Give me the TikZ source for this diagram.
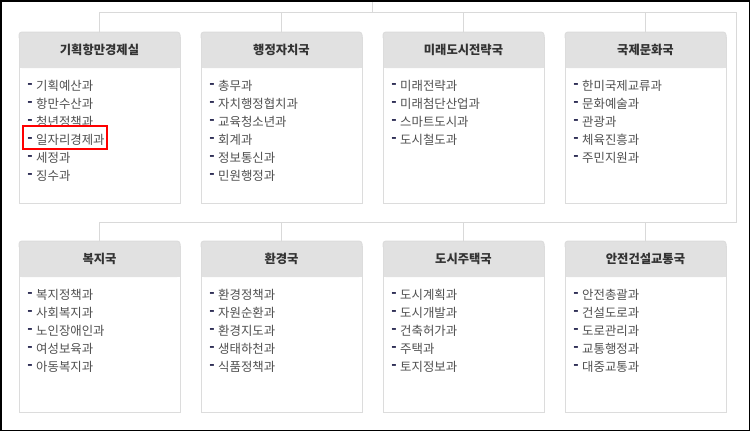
\documentclass[tikz,border=0pt]{standalone}
\usepackage{fontspec}
\newfontfamily\kr{Noto Sans CJK KR}
\definecolor{linegray}{HTML}{D9D9D9}
\definecolor{boxborder}{HTML}{DCDCDC}
\definecolor{headfill}{HTML}{E1E1E1}
\definecolor{headtext}{HTML}{333333}
\definecolor{itemcol}{HTML}{505050}
\definecolor{dashcol}{HTML}{1E1E48}
\tikzset{
  conn/.style={draw=linegray, line width=1pt},
  boxline/.style={draw=boxborder, line width=1pt},
  boxnode/.style={inner sep=0pt, minimum width=161pt, minimum height=171pt},
  titletext/.style={inner sep=0pt, font=\kr\fontsize{12.3}{14}\selectfont\bfseries, text=headtext},
  itemtext/.style={inner sep=0pt, font=\kr\fontsize{12.4}{14}\selectfont, text=itemcol},
  dashtext/.style={inner sep=0pt, font=\kr\fontsize{14}{14}\selectfont\bfseries, text=dashcol},
  highlight/.style={draw=red, line width=2pt}
}
\newcommand\deptbox[5]{%
  \fill[headfill,rounded corners=3pt] (#2,#3) rectangle ++(161,36);
  \fill[headfill] (#2,#3+10) rectangle ++(161,26);
  \draw[boxline] (#2,#3+5) -- (#2,#3+171) -- (#2+161,#3+171) -- (#2+161,#3+5);
  \draw[boxline,rounded corners=3pt] (#2,#3+6) -- (#2,#3) -- (#2+161,#3) -- (#2+161,#3+6);
  \node[boxnode,anchor=north west] (#1) at (#2,#3) {};
  \node[titletext] (#1-t) at (#2+80.5,#3+18) {#4};
  \foreach \itm [count=\i] in {#5} {
    \node[dashtext] (#1-d\i) at (#2+11,#3+36.2+17.9*\i) {-};
    \node[itemtext,anchor=west] (#1-i\i) at (#2+17,#3+36.2+17.9*\i) {\itm};
  }%
}
\begin{document}
\begin{tikzpicture}[x=1pt,y=-1pt]
\useasboundingbox (0,0) rectangle (750,431);
\fill[white] (0,0) rectangle (750,431);

\deptbox{b1}{19}{32}{기획항만경제실}{기획예산과,항만수산과,청년정책과,일자리경제과,세정과,징수과}
\deptbox{b2}{201}{32}{행정자치국}{총무과,자치행정협치과,교육청소년과,회계과,정보통신과,민원행정과}
\deptbox{b3}{383}{32}{미래도시전략국}{미래전략과,미래첨단산업과,스마트도시과,도시철도과}
\deptbox{b4}{565}{32}{국제문화국}{한미국제교류과,문화예술과,관광과,체육진흥과,주민지원과}
\deptbox{b5}{19}{241}{복지국}{복지정책과,사회복지과,노인장애인과,여성보육과,아동복지과}
\deptbox{b6}{201}{241}{환경국}{환경정책과,자원순환과,환경지도과,생태하천과,식품정책과}
\deptbox{b7}{383}{241}{도시주택국}{도시계획과,도시개발과,건축허가과,주택과,토지정보과}
\deptbox{b8}{565}{241}{안전건설교통국}{안전총괄과,건설도로과,도로관리과,교통행정과,대중교통과}

\coordinate (root) at (372,0);
\coordinate (busR) at (736,12);
\coordinate (busR2) at (736,222);

\draw[conn] (root) -- (root |- busR);
\draw[conn] (b1.north) -- (b1.north |- busR) -- (busR) -- (busR2) -- (b5.north |- busR2) -- (b5.north);
\draw[conn] (b2.north) -- (b2.north |- busR);
\draw[conn] (b3.north) -- (b3.north |- busR);
\draw[conn] (b4.north) -- (b4.north |- busR);
\draw[conn] (b6.north) -- (b6.north |- busR2);
\draw[conn] (b7.north) -- (b7.north |- busR2);
\draw[conn] (b8.north) -- (b8.north |- busR2);

\draw[highlight] (23,126) rectangle (107,149);

\draw[black, line width=1.5pt] (0.75,0.75) rectangle (749.25,430.25);
\end{tikzpicture}
\end{document}
